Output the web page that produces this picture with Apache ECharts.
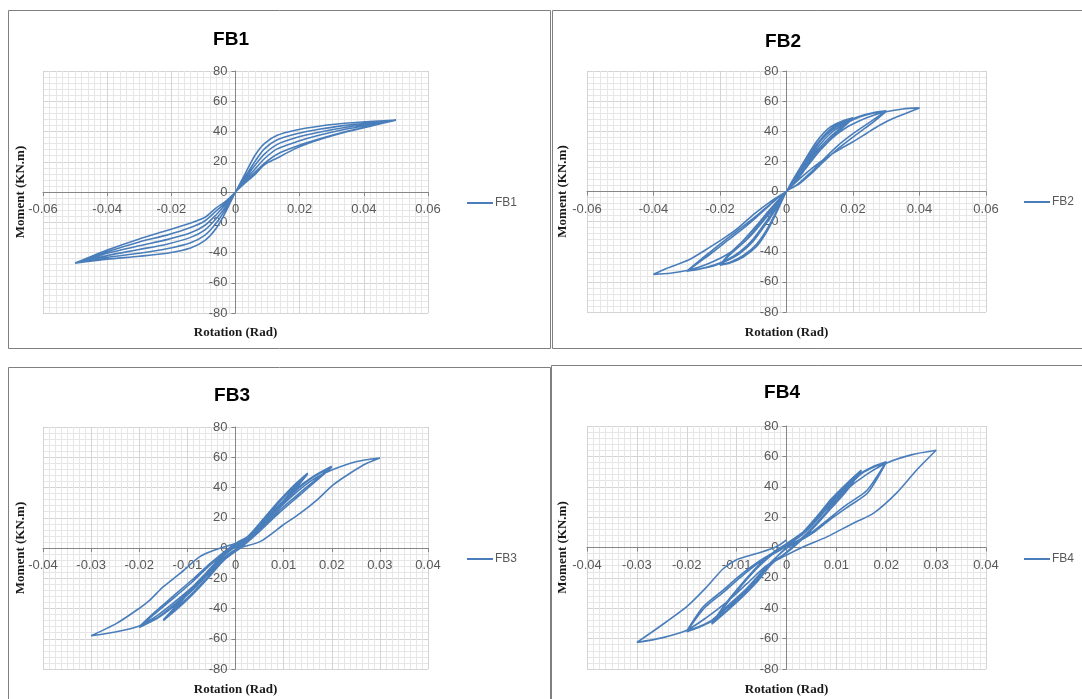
<!DOCTYPE html>
<html>
<head>
<meta charset="utf-8">
<script src="https://cdn.jsdelivr.net/npm/echarts@6/dist/echarts.min.js"></script>
<style>
html,body{margin:0;padding:0;background:#fff;}
#chart{width:1082px;height:699px;}
</style>
</head>
<body>
<div id="chart"></div>
<script>
// ---------------- DATA ----------------
const fb1Rotation = [
  0,0.003,0.006,0.009,0.013,0.019,0.026,0.035,0.043,0.05, 0.043,0.035,0.026,0.019,0.013,0.009,0.006,0.003,0,
  -0.003,-0.006,-0.0095,-0.014,-0.0214,-0.03,-0.04,-0.046,-0.05, -0.046,-0.04,-0.03,-0.0214,-0.014,-0.0095,-0.006,-0.003,0,
  0.003,0.006,0.009,0.013,0.019,0.026,0.035,0.043,0.05, 0.043,0.035,0.026,0.019,0.013,0.009,0.006,0.003,0,
  -0.003,-0.006,-0.0095,-0.014,-0.0214,-0.03,-0.04,-0.046,-0.05, -0.046,-0.04,-0.03,-0.0214,-0.014,-0.0095,-0.006,-0.003,0,
  0.003,0.006,0.009,0.013,0.019,0.026,0.035,0.043,0.05, 0.043,0.035,0.026,0.019,0.013,0.009,0.006,0.003,0,
  -0.003,-0.006,-0.0095,-0.014,-0.0214,-0.03,-0.04,-0.046,-0.05, -0.046,-0.04,-0.03,-0.0214,-0.014,-0.0095,-0.006,-0.003,0
];
const fb1Moment = [
  0,12,24,32,37.5,41,43.5,45.6,46.8,47.5, 46,44.2,41.5,38.5,34.5,28.5,20,10,0,
  -13,-24,-32,-37,-40.5,-42.5,-44.4,-46,-47, -45.5,-43.2,-40.5,-37.5,-33.5,-28.5,-20.5,-11,0,
  9,17.5,25,31.5,36,39.5,43,45.3,47.5, 44.8,41.8,37.5,33.2,28.5,22,15,8,0,
  -9.5,-17.5,-25,-30,-34.5,-38,-42,-45,-47, -44.5,-40.5,-35.5,-31.5,-27,-22,-15,-8,0,
  7,13,19,25,30.2,35,40.3,44,47.5, 44,40,34.5,29,22.5,18,11.5,6,0,
  -7,-12.5,-19,-23.5,-28.5,-33,-39.5,-44,-47, -43.5,-38.4,-31,-25.5,-20.5,-16.7,-10.5,-6,0
];

const fb2Rotation = [
  0,0.002,0.005,0.009,0.013,0.017,0.02, 0.017,0.013,0.009,0.005,0.002,0,
  -0.003,-0.006,-0.009,-0.013,-0.017,-0.02, -0.017,-0.013,-0.009,-0.005,-0.002,0,
  0.002,0.005,0.009,0.013,0.017,0.02, 0.017,0.013,0.009,0.005,0.002,0,
  -0.003,-0.006,-0.009,-0.013,-0.017,-0.02, -0.017,-0.013,-0.009,-0.005,-0.002,0,
  0.003,0.006,0.01,0.014,0.018,0.022,0.026,0.03, 0.0253,0.0202,0.0152,0.0112,0.0072,0.0032,0,
  -0.003,-0.006,-0.01,-0.014,-0.018,-0.022,-0.026,-0.03, -0.026,-0.022,-0.018,-0.013,-0.009,-0.005,-0.002,0,
  0.003,0.006,0.01,0.014,0.018,0.022,0.026,0.03, 0.0255,0.0205,0.0155,0.0115,0.0075,0.0035,0,
  -0.003,-0.006,-0.01,-0.014,-0.018,-0.022,-0.026,-0.03, -0.026,-0.022,-0.018,-0.013,-0.009,-0.005,-0.002,0,
  0.003,0.006,0.01,0.014,0.018,0.022,0.026,0.03,0.035,0.04, 0.036,0.032,0.028,0.024,0.02,0.016,0.012,0.008,0.004,0,
  -0.003,-0.006,-0.01,-0.014,-0.018,-0.022,-0.026,-0.03,-0.035,-0.04, -0.036,-0.0295,-0.0245,-0.0195,-0.015,-0.0095,-0.005,0
];
const fb2Moment = [
  0,8,19,33,42.5,47,49, 43.5,36,26.5,14,5,0,
  -14,-27,-36.5,-43.5,-47.5,-49, -42,-34,-24,-13,-5,0,
  7,17,31,41,46.5,48.5, 42.5,34.5,25,13,4.5,0,
  -13,-25.5,-35,-42.5,-47,-48.5, -41,-32.5,-22.5,-12,-4.5,0,
  10,20,33,41.5,46.5,50,52.3,53.5, 46.4,38.7,30,21.5,12.5,4.5,0,
  -11,-21,-33,-41,-46,-49.5,-51.5,-53, -46.5,-40,-33,-24.5,-17,-9,-3,0,
  9,18.5,31,40,45.5,49.5,52,53.2, 45,37,28.5,20.5,12,4.5,0,
  -10,-19.5,-31.5,-40,-45.5,-49,-51.3,-52.8, -45.5,-38.5,-31.5,-23,-16,-8.5,-3,0,
  8,16,27,36,42.5,47,50.5,53,54.8,55.5, 52,48.5,44,38.5,33,28,22.5,16,8.5,0,
  -9,-17,-27.5,-36,-42,-46.5,-50,-52.5,-54.3,-55, -51,-45.5,-39,-32,-25,-14.5,-7,0
];

const fb3Rotation = [
  0,0.003,0.006,0.009,0.012,0.015, 0.012,0.009,0.006,0.003,0,
  -0.003,-0.006,-0.009,-0.012,-0.015, -0.012,-0.009,-0.006,-0.003,0,
  0.003,0.006,0.009,0.012,0.015, 0.012,0.009,0.006,0.003,0,
  -0.003,-0.006,-0.009,-0.012,-0.015, -0.012,-0.009,-0.006,-0.003,0,
  0.004,0.008,0.012,0.016,0.02, 0.017,0.013,0.009,0.005,0.001,
  -0.004,-0.008,-0.012,-0.016,-0.02, -0.017,-0.013,-0.009,-0.005,0,
  0.004,0.008,0.012,0.016,0.02, 0.017,0.013,0.009,0.005,0.001,
  -0.004,-0.008,-0.012,-0.016,-0.02, -0.017,-0.013,-0.009,-0.005,0,
  0.004,0.008,0.012,0.016,0.02,0.025,0.03, 0.0273,0.0238,0.0203,0.0169,0.0134,0.0099,0.0051,0,
  -0.004,-0.008,-0.012,-0.016,-0.02,-0.025,-0.03, -0.0247,-0.0205,-0.0178,-0.015,-0.0115,-0.0074,-0.004,0
];
const fb3Moment = [
  0,9,20,31,41,49.5, 39,28,18,8,-1,
  -10,-21,-31,-40,-48, -38,-27,-17,-7,1,
  8,19,30,40,49, 37.5,27,16.5,6.5,-2,
  -9.5,-20,-30,-39,-47.5, -37,-26,-16,-6,2,
  11,25,37.5,47,54, 46,35.5,24.5,12,1,
  -12,-25,-36.5,-46,-52.5, -44,-33.5,-22.5,-10.5,2,
  10,24,36.5,46.5,53.5, 45,34,23,11,0,
  -11,-24,-35.5,-45.5,-52, -43,-32,-21,-9.5,3,
  10,23,35,45,51.5,57,59.5, 56,49.4,41.7,31.7,22.9,15.2,4.2,-1,
  -11,-23,-34,-44,-51.5,-55.5,-58, -49.8,-41,-34.4,-25.6,-16.8,-5.7,-1,3
];

const fb4Rotation = [
  0,0.003,0.006,0.009,0.012,0.015, 0.012,0.009,0.006,0.003,0,
  -0.003,-0.006,-0.009,-0.012,-0.015, -0.012,-0.009,-0.006,-0.003,0,
  0.003,0.006,0.009,0.012,0.015, 0.012,0.009,0.006,0.003,0,
  -0.003,-0.006,-0.009,-0.012,-0.015, -0.012,-0.009,-0.006,-0.003,0,
  0.004,0.008,0.012,0.015,0.0175,0.02, 0.0161,0.0122,0.0089,0.0056,0.0024,0,
  -0.004,-0.008,-0.012,-0.015,-0.0175,-0.02, -0.0165,-0.0125,-0.009,-0.0055,-0.0025,0,
  0.004,0.008,0.012,0.015,0.0175,0.02, 0.0163,0.0124,0.009,0.0057,0.0025,0,
  -0.004,-0.008,-0.012,-0.015,-0.0175,-0.02, -0.0167,-0.0127,-0.0092,-0.0057,-0.0027,0,
  0.004,0.008,0.012,0.016,0.02,0.025,0.03, 0.0261,0.0221,0.0174,0.0134,0.0081,0.0034,-0.0006,-0.004,
  -0.008,-0.012,-0.016,-0.02,-0.025,-0.03, -0.0254,-0.02,-0.016,-0.0127,-0.01,-0.006,-0.002,0
];
const fb4Moment = [
  0,9,20,32,42,51, 38,27,16,6,-3,
  -11,-23,-33,-42,-50.5, -37,-25,-14,-5,2,
  8,19,31,41,50.5, 37,26,15,5,-3.5,
  -10,-22,-32,-41.5,-50, -36,-24,-13,-4,2.5,
  12,26,40,49,53.5,56.5, 37.5,28.5,20,11.3,4.8,0,
  -13,-28,-40,-48.5,-52.5,-55.5, -40,-29,-19,-10,-4,1,
  11,25,39,48.5,53,56, 36,27,19,10.5,4,-0.5,
  -12.5,-27,-39,-48,-52,-55, -39,-28,-18,-9.5,-3.5,1.5,
  12,25,38,48,55.5,61,64, 51,36,22.5,16,7,0.5,-6,-12,
  -24,-36,-46,-54.5,-59.5,-62.5, -52,-39,-26,-14,-8,-4,0.5,5
];

const seriesNames = ['FB1', 'FB2', 'FB3', 'FB4'];
const rotationTicksWide = [-0.06, -0.04, -0.02, 0, 0.02, 0.04, 0.06];
const rotationTicksNarrow = [-0.04, -0.03, -0.02, -0.01, 0, 0.01, 0.02, 0.03, 0.04];
const momentTicks = [-80, -60, -40, -20, 0, 20, 40, 60, 80];
const xAxisTitle = 'Rotation (Rad)';
const yAxisTitle = 'Moment (KN.m)';

// ---------------- LAYOUT ----------------
const panels = [
  {rot: fb1Rotation, mom: fb1Moment, ticks: rotationTicksWide, minorX: 10,
   grid: {left: 43, top: 71, width: 385, height: 242}, titleXY: [226, 25], legendXY: [462, 192],
   frame: [8.5, 10.5, 542, 338], xGap: 13, yGap: 16},
  {rot: fb2Rotation, mom: fb2Moment, ticks: rotationTicksWide, minorX: 10,
   grid: {left: 587, top: 71, width: 399, height: 241}, titleXY: [778, 27], legendXY: [1019, 191],
   frame: [552.5, 10.5, 532, 338], xGap: 14, yGap: 18},
  {rot: fb3Rotation, mom: fb3Moment, ticks: rotationTicksNarrow, minorX: 8,
   grid: {left: 43, top: 427, width: 385, height: 242}, titleXY: [227, 381], legendXY: [462, 548],
   frame: [8.5, 367.5, 542, 340], xGap: 14, yGap: 16},
  {rot: fb4Rotation, mom: fb4Moment, ticks: rotationTicksNarrow, minorX: 8,
   grid: {left: 587, top: 426, width: 399, height: 243}, titleXY: [777, 378], legendXY: [1019, 548],
   frame: [551.5, 365.5, 532, 342], xGap: 14, yGap: 18}
];

const labelFont = {fontFamily: 'Liberation Sans', fontSize: 13, color: '#595959'};
const nameFont = {fontFamily: 'Liberation Serif', fontWeight: 'bold', fontSize: 13, color: '#1a1a1a'};
const axisGray = '#868686';
const lineBlue = '#4A7EBB';

const option = {
  animation: false,
  backgroundColor: '#ffffff',
  title: [], legend: [], grid: [], xAxis: [], yAxis: [], series: [], graphic: []
};

panels.forEach((p, i) => {
  const t = p.ticks;
  const xMin = t[0], xMax = t[t.length - 1], xInt = +(t[1] - t[0]).toFixed(4);
  const yMin = momentTicks[0], yMax = momentTicks[momentTicks.length - 1];
  const yInt = momentTicks[1] - momentTicks[0];
  // shift axes (as whole groups, labels included) from the plot edges onto the zero lines
  const yAxisShift = -p.grid.width * (0 - xMin) / (xMax - xMin);
  const xAxisShift = -p.grid.height * (0 - yMin) / (yMax - yMin);

  option.grid.push(Object.assign({containLabel: false}, p.grid));

  option.title.push({
    text: seriesNames[i], left: p.titleXY[0], top: p.titleXY[1], textAlign: 'center',
    textStyle: {fontFamily: 'Liberation Sans', fontWeight: 'bold', fontSize: 19, color: '#000'}
  });

  option.legend.push({
    data: [seriesNames[i]], left: p.legendXY[0], top: p.legendXY[1],
    icon: 'rect', itemWidth: 26, itemHeight: 2, itemGap: 4,
    textStyle: {fontFamily: 'Liberation Sans', fontSize: 12, color: '#595959', padding: [0, 0, 0, -3]}
  });

  // main axes, crossing at the origin
  option.xAxis.push({
    type: 'value', gridIndex: i, min: xMin, max: xMax, interval: xInt,
    position: 'bottom', offset: xAxisShift,
    axisLine: {onZero: false, lineStyle: {color: axisGray, width: 1}},
    axisTick: {show: true, length: 4, lineStyle: {color: axisGray}},
    axisLabel: Object.assign({margin: 11, showMinLabel: true, showMaxLabel: true}, labelFont),
    splitLine: {show: true, lineStyle: {color: '#d4d4d4', width: 1}},
    minorTick: {show: false, splitNumber: p.minorX},
    minorSplitLine: {show: true, lineStyle: {color: '#e6e6e6', width: 1}}
  });
  option.yAxis.push({
    type: 'value', gridIndex: i, min: yMin, max: yMax, interval: yInt,
    position: 'left', offset: yAxisShift,
    axisLine: {onZero: false, lineStyle: {color: axisGray, width: 1}},
    axisTick: {show: true, length: 4, lineStyle: {color: axisGray}},
    axisLabel: Object.assign({margin: 8, showMinLabel: true, showMaxLabel: true}, labelFont),
    splitLine: {show: true, lineStyle: {color: '#d4d4d4', width: 1}},
    minorTick: {show: false, splitNumber: 5},
    minorSplitLine: {show: true, lineStyle: {color: '#e6e6e6', width: 1}}
  });
  // helper axes carrying the axis titles at the plot-area edges
  option.xAxis.push({
    type: 'value', gridIndex: i, min: xMin, max: xMax, position: 'bottom',
    axisLine: {show: false, onZero: false}, axisTick: {show: false},
    axisLabel: {show: false}, splitLine: {show: false},
    name: xAxisTitle, nameLocation: 'middle', nameGap: p.xGap, nameTextStyle: nameFont
  });
  option.yAxis.push({
    type: 'value', gridIndex: i, min: yMin, max: yMax, position: 'left',
    axisLine: {show: false, onZero: false}, axisTick: {show: false},
    axisLabel: {show: false}, splitLine: {show: false},
    name: yAxisTitle, nameLocation: 'middle', nameRotate: 90, nameGap: p.yGap, nameTextStyle: nameFont
  });

  option.series.push({
    name: seriesNames[i], type: 'line', xAxisIndex: i * 2, yAxisIndex: i * 2,
    data: p.rot.map((r, k) => [r, p.mom[k]]),
    symbol: 'none', showSymbol: false, smooth: 0.25,
    lineStyle: {color: lineBlue, width: 1.6}, itemStyle: {color: lineBlue}
  });

  option.graphic.push({
    type: 'rect', silent: true, z: 100,
    shape: {x: p.frame[0], y: p.frame[1], width: p.frame[2], height: p.frame[3]},
    style: {fill: 'none', stroke: '#7f7f7f', lineWidth: 1}
  });
});

const chart = echarts.init(document.getElementById('chart'), null, {renderer: 'canvas'});
chart.setOption(option);
</script>
</body>
</html>
